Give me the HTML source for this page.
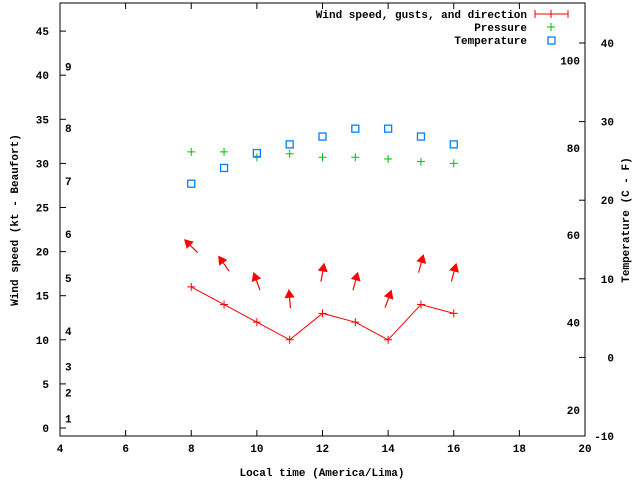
<!DOCTYPE html>
<html><head><meta charset="utf-8"><style>
body{margin:0;background:#fff}
svg{display:block;font-family:"Liberation Mono",monospace;font-size:11px;font-weight:bold}
</style></head><body>
<svg id="c" width="640" height="480" xmlns="http://www.w3.org/2000/svg"></svg>
<script>
const hours=[8,9,10,11,12,13,14,15,16];
const windKt=[16,14,12,10,13,12,10,14,13];
const windDir=[-45,-35,-20,-5,10,15,20,15,15];
const pressure=[31.3,31.3,30.7,31.1,30.7,30.7,30.5,30.2,30.0];
const tempC=[22.1,24.1,26.0,27.1,28.1,29.1,29.1,28.1,27.1];
const xTicks=[4,6,8,10,12,14,16,18,20];
const yTicks=[0,5,10,15,20,25,30,35,40,45];
const y2Ticks=[-10,0,10,20,30,40];
const beaufort=[["1",1.1],["2",4],["3",7],["4",11],["5",17],["6",22],["7",28],["8",34],["9",41]];
const fahrenheit=[20,40,60,80,100];

const svg=document.getElementById('c');
const NS='http://www.w3.org/2000/svg';
const L=60,R=585,T=3,B=436;
const X=v=>L+(v-4)*(R-L)/16;
const Y=v=>428-v*8.82;
const Y2=v=>357.4-v*7.86;
function mk(tag,a,txt){const e=document.createElementNS(NS,tag);for(const k in a)e.setAttribute(k,a[k]);if(txt!==undefined)e.textContent=txt;svg.appendChild(e);return e;}

let e=mk('rect',{x:L,y:T,width:R-L,height:B-T,fill:'none',stroke:'#000'});


xTicks.forEach(v=>{
 mk('line',{x1:X(v),x2:X(v),y1:B,y2:B-6,stroke:'#000'});
 mk('line',{x1:X(v),x2:X(v),y1:T,y2:T+6,stroke:'#000'});
 let t=mk('text',{x:X(v),y:B+16,'text-anchor':'middle'},v);
 
 
});
yTicks.forEach(v=>{
 mk('line',{x1:L,x2:L+6,y1:Y(v),y2:Y(v),stroke:'#000'});
 let t=mk('text',{x:L-11,y:Y(v)+4,'text-anchor':'end'},v);
 
 
});
y2Ticks.forEach(v=>{
 mk('line',{x1:R,x2:R-6,y1:Y2(v),y2:Y2(v),stroke:'#000'});
 let t=mk('text',{x:614,y:Y2(v)+4,'text-anchor':'end'},v);
 
 
});
beaufort.forEach(b=>{
 let t=mk('text',{x:65,y:Y(b[1])+4},b[0]);
 
 
});
fahrenheit.forEach(f=>{
 let t=mk('text',{x:580,y:Y2((f-32)/1.8)+4,'text-anchor':'end'},f);
 
 
});
let t=mk('text',{x:322,y:476,'text-anchor':'middle'},'Local time (America/Lima)');

t=mk('text',{x:18,y:220,'text-anchor':'middle',transform:'rotate(-90 18 220)'},'Wind speed (kt - Beaufort)');

t=mk('text',{x:629,y:220,'text-anchor':'middle',transform:'rotate(-90 629 220)'},'Temperature (C - F)');


let p=mk('polyline',{points:hours.map((h,i)=>X(h)+','+Y(windKt[i])).join(' '),fill:'none',stroke:'#f00'});

function plus(x,y,c,name){let g=mk('path',{d:`M${x-4},${y}h8M${x},${y-4}v8`,stroke:c,'stroke-width':1});}
hours.forEach((h,i)=>{
 plus(X(h),Y(windKt[i]),'#f00','wind-point');
 const cx=X(h),cy=Y(windKt[i]+4.6),a=windDir[i]*Math.PI/180,len=9;
 const dx=Math.sin(a),dy=-Math.cos(a);
 const hx=cx+dx*len,hy=cy+dy*len,tx=cx-dx*len,ty=cy-dy*len;
 const px=-dy,py=dx;
 let g=mk('path',{d:`M${tx},${ty}L${hx},${hy}M${hx},${hy}L${hx-dx*7+px*4},${hy-dy*7+py*4}L${hx-dx*7-px*4},${hy-dy*7-py*4}Z`,stroke:'#f00',fill:'#f00','stroke-width':1.2});
 
 plus(X(h),Y(pressure[i]),'#00c000','pressure-point');
 let s=mk('rect',{x:X(h)-3.5,y:Y2(tempC[i])-3.5,width:7,height:7,fill:'none',stroke:'#0080ff','stroke-width':1.3});
 
});
t=mk('text',{x:527,y:18,'text-anchor':'end'},'Wind speed, gusts, and direction');

mk('path',{d:'M535,14h33M535,10v8M568,10v8M551,10v8',stroke:'#f00'});
t=mk('text',{x:527,y:31,'text-anchor':'end'},'Pressure');

plus(551,27,'#00c000','legend-pressure-marker');
t=mk('text',{x:527,y:44,'text-anchor':'end'},'Temperature');

mk('rect',{x:548,y:37,width:7,height:7,fill:'none',stroke:'#0080ff','stroke-width':1.3});
</script>
</body></html>
